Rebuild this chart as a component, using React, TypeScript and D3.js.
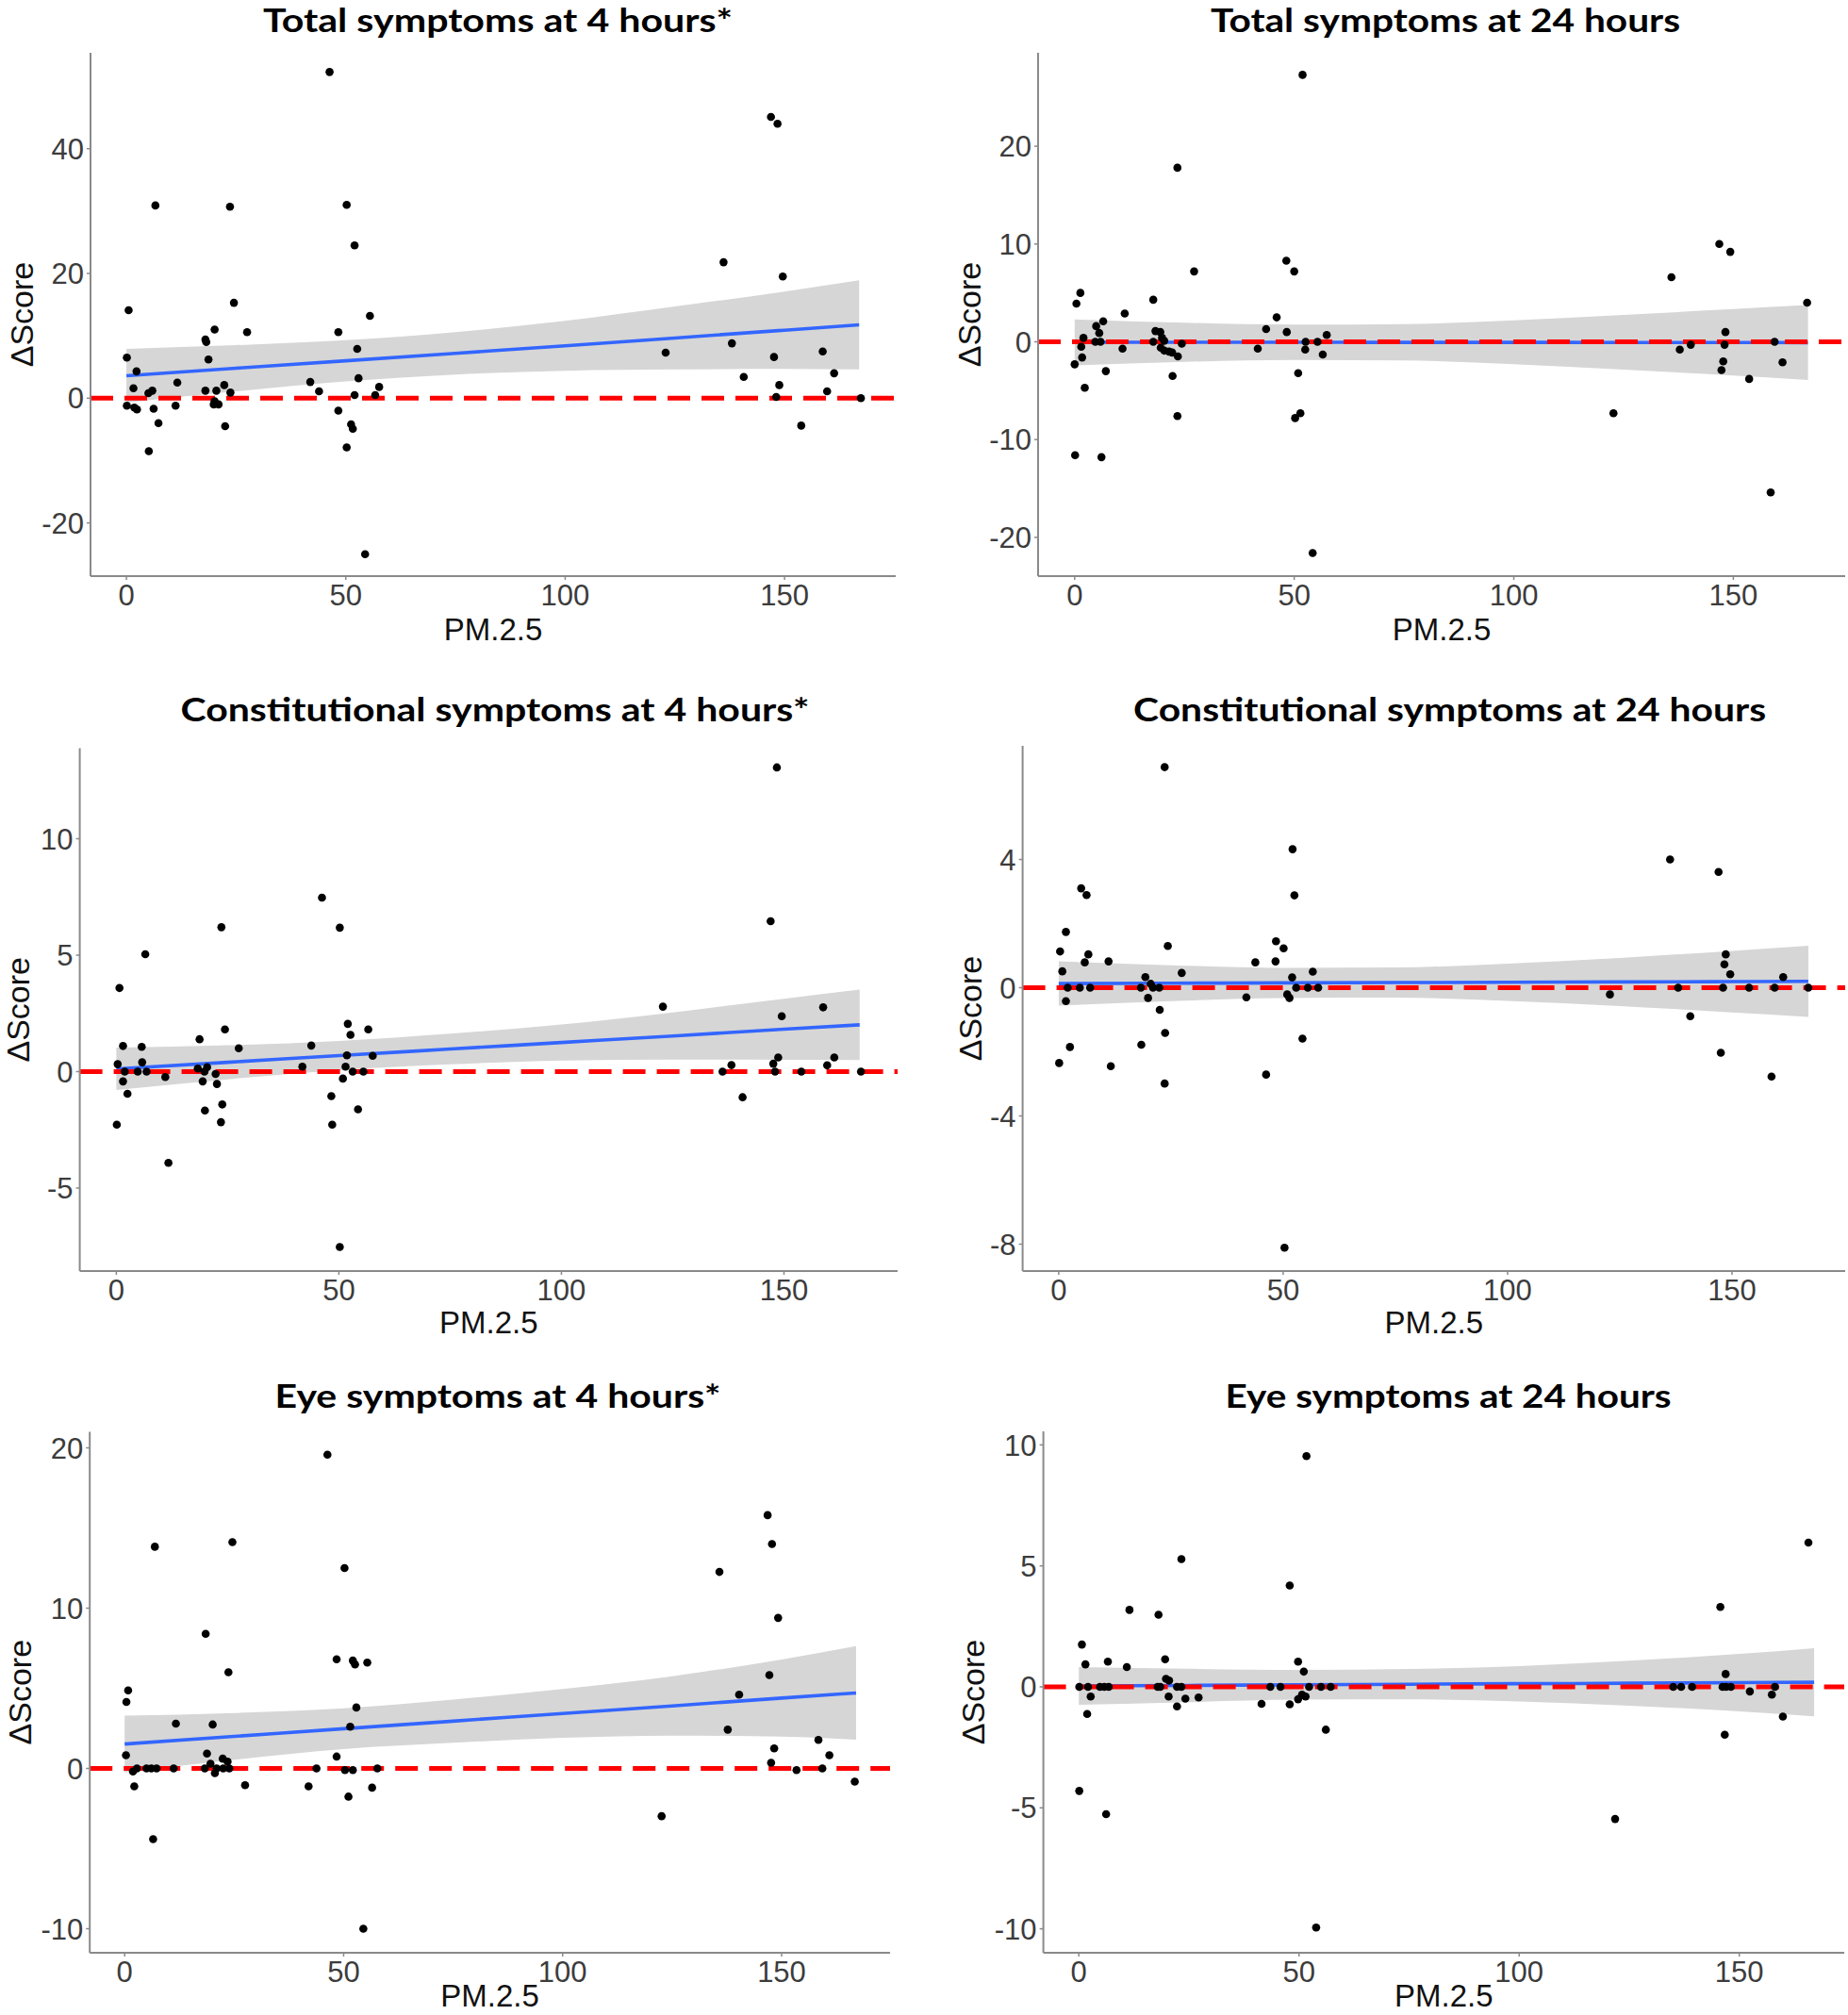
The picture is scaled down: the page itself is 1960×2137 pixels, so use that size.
import React from "react";
import * as d3 from "d3";

// ---------- shared values ----------
const xTickValues = [0, 50, 100, 150];
const fitX = [0, 25, 50, 75, 100, 125, 150, 167];

const titles = [
  "Total symptoms at 4 hours*",
  "Total symptoms at 24 hours",
  "Constitutional symptoms at 4 hours*",
  "Constitutional symptoms at 24 hours",
  "Eye symptoms at 4 hours*",
  "Eye symptoms at 24 hours",
];

// ---------- Total symptoms at 4 hours ----------
const total4hPoints = [
  [46.3, 52.3], [146.9, 45.1], [148.4, 44.0], [6.6, 30.9], [23.6, 30.7], [50.2, 31.0], [52.0, 24.5],
  [136.1, 21.8], [149.6, 19.5], [24.5, 15.3], [0.5, 14.1], [55.5, 13.2], [20.1, 11.0], [27.5, 10.6],
  [48.3, 10.6], [18.0, 9.4], [18.2, 9.0], [0.1, 6.5], [18.7, 6.2], [52.6, 7.9], [122.9, 7.3],
  [138.0, 8.8], [147.6, 6.6], [158.7, 7.5], [2.3, 4.3], [161.3, 4.0], [140.7, 3.4], [52.9, 3.2],
  [11.6, 2.5], [41.9, 2.6], [57.6, 1.8], [148.8, 2.1], [1.6, 1.6], [18.0, 1.2], [20.5, 1.2],
  [22.3, 2.1], [5.9, 1.2], [5.0, 0.8], [23.7, 0.9], [43.9, 1.1], [52.0, 0.5], [56.7, 0.5],
  [159.7, 1.1], [148.1, 0.2], [167.4, 0.0], [0.1, -1.2], [1.8, -1.5], [2.4, -1.8], [11.2, -1.2],
  [19.9, -1.0], [21.0, -1.0], [6.2, -1.7], [48.3, -2.0], [7.3, -4.0], [22.5, -4.5], [51.2, -4.2],
  [51.6, -4.9], [153.8, -4.4], [5.1, -8.5], [50.2, -7.9], [54.4, -25.0], [20.1, -0.5],
];
const total4hYTicks = [-20, 0, 20, 40];
const total4hFit = [3.6, 4.8, 6.0, 7.2, 8.4, 9.65, 10.9, 11.75];
const total4hUpper = [7.9, 8.5, 9.3, 10.6, 12.4, 14.7, 17.1, 18.9];
const total4hLower = [-0.7, 1.1, 2.7, 3.8, 4.4, 4.6, 4.7, 4.6];

// ---------- Total symptoms at 24 hours ----------
const total24hPoints = [
  [51.9, 27.3], [23.4, 17.8], [146.8, 10.0], [149.3, 9.2], [48.2, 8.3], [50.0, 7.2], [27.2, 7.2],
  [135.9, 6.6], [1.3, 5.0], [0.4, 3.9], [166.8, 4.0], [17.9, 4.3], [11.4, 2.9], [46.0, 2.5],
  [43.6, 1.3], [6.5, 2.1], [4.9, 1.6], [5.6, 0.9], [18.4, 1.1], [19.5, 1.0], [48.3, 1.0],
  [57.4, 0.7], [148.2, 1.0], [2.0, 0.4], [19.9, 0.4], [20.4, 0.1], [4.7, 0], [5.9, 0], [17.9, 0],
  [52.6, 0], [55.3, 0], [159.4, 0], [1.5, -0.5], [10.9, -0.7], [19.6, -0.6], [20.4, -0.9],
  [21.5, -1.0], [22.2, -1.1], [24.4, -0.2], [41.7, -0.7], [52.5, -0.8], [137.8, -0.8],
  [140.3, -0.3], [148.0, -0.3], [1.7, -1.6], [23.5, -1.5], [56.5, -1.3], [147.7, -2.0],
  [161.2, -2.1], [0, -2.3], [147.3, -2.9], [7.1, -3.0], [50.9, -3.2], [22.3, -3.5], [153.6, -3.8],
  [2.3, -4.7], [23.4, -7.6], [51.4, -7.3], [50.2, -7.8], [122.7, -7.3], [0.1, -11.6], [6.1, -11.8],
  [158.5, -15.4], [54.2, -21.6],
];
const total24hYTicks = [-20, -10, 0, 10, 20];
const total24hFit = [-0.05, -0.05, -0.05, -0.06, -0.06, -0.07, -0.07, -0.08];
const total24hUpper = [2.3, 1.95, 1.75, 1.8, 2.2, 2.75, 3.35, 3.75];
const total24hLower = [-2.4, -2.05, -1.85, -1.9, -2.3, -2.85, -3.45, -3.9];

// ---------- Constitutional symptoms at 4 hours ----------
const const4hPoints = [
  [148.4, 13.06], [46.2, 7.47], [23.6, 6.2], [50.2, 6.18], [147.0, 6.46], [6.5, 5.04], [0.7, 3.59],
  [122.8, 2.79], [158.8, 2.76], [149.5, 2.38], [52.0, 2.05], [24.4, 1.81], [56.6, 1.81], [52.6, 1.58],
  [18.7, 1.39], [1.5, 1.1], [5.7, 1.06], [43.8, 1.12], [27.5, 1.0], [51.8, 0.7], [57.6, 0.68],
  [148.7, 0.61], [161.3, 0.61], [5.8, 0.4], [0.3, 0.32], [41.8, 0.21], [51.5, 0.21], [147.6, 0.34],
  [138.2, 0.28], [159.7, 0.27], [18.3, 0.13], [20.4, 0.19], [1.9, 0], [4.8, 0], [6.8, 0], [53.1, 0],
  [55.5, 0], [136.2, 0], [148.0, 0], [153.9, 0], [167.3, 0], [19.8, 0], [22.3, -0.1], [11.0, -0.23],
  [1.5, -0.42], [19.4, -0.42], [50.9, -0.3], [22.6, -0.53], [2.5, -0.95], [48.3, -1.05],
  [140.7, -1.1], [23.8, -1.41], [19.9, -1.67], [54.3, -1.62], [23.5, -2.17], [0.1, -2.28],
  [48.5, -2.28], [11.7, -3.92], [50.2, -7.53],
];
const const4hYTicks = [-5, 0, 5, 10];
const const4hFit = [0.12, 0.4, 0.69, 0.97, 1.25, 1.53, 1.82, 2.01];
const const4hUpper = [1.03, 1.13, 1.32, 1.63, 2.02, 2.54, 3.13, 3.52];
const const4hLower = [-0.79, -0.33, 0.06, 0.31, 0.48, 0.52, 0.51, 0.5];

// ---------- Constitutional symptoms at 24 hours ----------
const const24hPoints = [
  [23.6, 6.88], [52.1, 4.32], [136.2, 4.0], [147.0, 3.61], [5.0, 3.1], [6.2, 2.89], [52.5, 2.88],
  [1.6, 1.74], [48.4, 1.45], [24.3, 1.3], [50.1, 1.23], [0.3, 1.13], [6.6, 1.04], [148.6, 1.04],
  [11.1, 0.82], [5.8, 0.79], [43.8, 0.79], [48.3, 0.82], [148.3, 0.73], [0.8, 0.51], [27.4, 0.46],
  [56.6, 0.5], [149.6, 0.42], [52.0, 0.32], [19.3, 0.33], [161.4, 0.33], [20.5, 0.12], [2.0, 0],
  [4.7, 0], [7.0, 0], [18.3, 0], [21.0, 0], [22.4, 0], [52.9, 0], [55.5, 0], [57.8, 0], [138.0, 0],
  [148.0, 0], [153.8, 0], [159.5, 0], [167.0, 0], [122.8, -0.21], [50.9, -0.21], [51.4, -0.32],
  [41.8, -0.3], [19.9, -0.32], [1.6, -0.42], [22.5, -0.69], [140.7, -0.89], [23.7, -1.41],
  [54.3, -1.59], [18.4, -1.78], [2.5, -1.85], [147.5, -2.03], [0.1, -2.35], [11.6, -2.45],
  [46.2, -2.71], [158.8, -2.77], [23.6, -2.99], [50.3, -8.11],
];
const const24hYTicks = [-8, -4, 0, 4];
const const24hFit = [0.13, 0.14, 0.15, 0.16, 0.17, 0.18, 0.19, 0.2];
const const24hUpper = [0.82, 0.7, 0.62, 0.63, 0.75, 0.93, 1.15, 1.31];
const const24hLower = [-0.56, -0.42, -0.32, -0.31, -0.41, -0.57, -0.77, -0.91];

// ---------- Eye symptoms at 4 hours ----------
const eye4hPoints = [
  [46.3, 19.57], [146.8, 15.8], [24.6, 14.12], [6.9, 13.83], [147.8, 14.0], [135.8, 12.26],
  [50.2, 12.5], [149.2, 9.39], [18.5, 8.4], [48.4, 6.81], [52.1, 6.73], [52.6, 6.49], [55.4, 6.6],
  [23.7, 6.0], [147.2, 5.82], [0.8, 4.87], [0.4, 4.15], [140.3, 4.6], [52.9, 3.8], [11.7, 2.79],
  [20.1, 2.74], [51.5, 2.6], [137.7, 2.42], [158.4, 1.78], [148.3, 1.25], [18.8, 0.93], [0.3, 0.82],
  [48.4, 0.74], [160.9, 0.82], [22.4, 0.61], [23.5, 0.43], [19.6, 0.29], [147.6, 0.35], [2.8, 0],
  [5.0, 0], [6.1, 0], [7.3, 0], [11.2, 0], [18.3, 0], [21.0, 0], [22.5, 0], [23.9, 0], [43.8, 0],
  [50.3, -0.1], [52.1, -0.1], [57.7, 0], [159.3, 0], [153.4, -0.1], [1.9, -0.19], [20.6, -0.29],
  [2.2, -1.12], [27.5, -1.04], [42.0, -1.12], [56.5, -1.2], [166.7, -0.82], [51.1, -1.76],
  [122.6, -2.98], [6.5, -4.41], [54.5, -10.0],
];
const eye4hYTicks = [-10, 0, 10, 20];
const eye4hFit = [1.52, 2.0, 2.48, 2.95, 3.43, 3.9, 4.39, 4.71];
const eye4hUpper = [3.29, 3.46, 3.75, 4.3, 4.95, 5.75, 6.8, 7.63];
const eye4hLower = [-0.25, 0.54, 1.21, 1.6, 1.91, 2.05, 1.98, 1.79];

// ---------- Eye symptoms at 24 hours ----------
const eye24hPoints = [
  [51.7, 9.54], [165.7, 5.96], [23.3, 5.28], [47.9, 4.19], [145.7, 3.3], [11.5, 3.18], [18.1, 2.98],
  [0.7, 1.75], [19.6, 1.14], [6.6, 1.04], [49.8, 1.04], [1.5, 0.93], [10.9, 0.82], [51.1, 0.63],
  [146.9, 0.53], [19.8, 0.33], [20.5, 0.26], [0.1, 0], [2.1, 0], [4.8, 0], [5.8, 0], [6.8, 0],
  [17.9, 0], [18.5, 0], [22.3, 0], [23.3, 0], [43.5, 0], [45.8, 0], [52.3, 0], [55.0, 0], [57.2, 0],
  [135.0, 0], [136.8, 0], [139.3, 0], [146.2, 0], [147.0, 0], [148.1, 0], [158.1, 0],
  [152.4, -0.19], [2.7, -0.4], [20.4, -0.4], [24.2, -0.49], [27.2, -0.44], [49.8, -0.51],
  [50.7, -0.32], [51.5, -0.4], [41.5, -0.7], [47.9, -0.72], [22.3, -0.81], [157.4, -0.32],
  [1.9, -1.12], [159.9, -1.23], [56.1, -1.77], [146.7, -1.98], [0.1, -4.3], [6.2, -5.26],
  [121.8, -5.46], [53.9, -9.95],
];
const eye24hYTicks = [-10, -5, 0, 5, 10];
const eye24hFit = [0.04, 0.06, 0.085, 0.11, 0.13, 0.15, 0.175, 0.19];
const eye24hUpper = [0.82, 0.75, 0.7, 0.74, 0.86, 1.08, 1.36, 1.6];
const eye24hLower = [-0.74, -0.63, -0.53, -0.52, -0.6, -0.78, -1.01, -1.22];

// ---------- layout (pixel positions) ----------
const layouts = [
  { left: 96, right: 950, top: 56, bottom: 611, x0: 134.1, x150: 832.1, y0: 422.3, yRef: 20, yRefPx: 290, titleCx: 528, titleBase: 34, titleW: 498, yLabX: 35, xLabBase: 679 },
  { left: 1101, right: 1957, top: 56, bottom: 611, x0: 1139.8, x150: 1838.4, y0: 362.5, yRef: 10, yRefPx: 258.8, titleCx: 1533, titleBase: 34, titleW: 498, yLabX: 1040, xLabBase: 679 },
  { left: 84.6, right: 952, top: 793.6, bottom: 1348, x0: 123.4, x150: 831.5, y0: 1136.5, yRef: 5, yRefPx: 1013, titleCx: 525, titleBase: 765, titleW: 667, yLabX: 31, xLabBase: 1414 },
  { left: 1084.6, right: 1957, top: 791, bottom: 1348, x0: 1122.9, x150: 1837, y0: 1047.5, yRef: 4, yRefPx: 911.5, titleCx: 1537.6, titleBase: 765, titleW: 671, yLabX: 1041, xLabBase: 1414 },
  { left: 95.2, right: 944, top: 1518.4, bottom: 2071, x0: 132.2, x150: 829, y0: 1875.5, yRef: 10, yRefPx: 1705.5, titleCx: 528, titleBase: 1493, titleW: 473, yLabX: 33, xLabBase: 2128 },
  { left: 1106.6, right: 1956, top: 1518, bottom: 2071, x0: 1144.2, x150: 1844.7, y0: 1789, yRef: 5, yRefPx: 1660.7, titleCx: 1536, titleBase: 1493, titleW: 473, yLabX: 1044, xLabBase: 2128 },
];

const panelData = [
  { points: total4hPoints, yTicks: total4hYTicks, fit: total4hFit, upper: total4hUpper, lower: total4hLower },
  { points: total24hPoints, yTicks: total24hYTicks, fit: total24hFit, upper: total24hUpper, lower: total24hLower },
  { points: const4hPoints, yTicks: const4hYTicks, fit: const4hFit, upper: const4hUpper, lower: const4hLower },
  { points: const24hPoints, yTicks: const24hYTicks, fit: const24hFit, upper: const24hUpper, lower: const24hLower },
  { points: eye4hPoints, yTicks: eye4hYTicks, fit: eye4hFit, upper: eye4hUpper, lower: eye4hLower },
  { points: eye24hPoints, yTicks: eye24hYTicks, fit: eye24hFit, upper: eye24hUpper, lower: eye24hLower },
];

const AXIS_COLOR = "#8a8a8a";
const TICK_TEXT = "#3c3c3c";
const NUM_FONT = "'Liberation Sans', Arial, Helvetica, sans-serif";
const TITLE_FONT = "Lato, 'Open Sans', sans-serif";

function Panel({ idx }: { idx: number }) {
  const L = layouts[idx];
  const D = panelData[idx];
  const x = d3.scaleLinear().domain([0, 150]).range([L.x0, L.x150]);
  const y = d3.scaleLinear().domain([0, L.yRef]).range([L.y0, L.yRefPx]);

  const area = d3
    .area<number>()
    .x((_, i) => x(fitX[i]))
    .y0((_, i) => y(D.lower[i]))
    .y1((_, i) => y(D.upper[i]))
    .curve(d3.curveMonotoneX);
  const line = d3
    .line<number>()
    .x((_, i) => x(fitX[i]))
    .y((d) => y(d))
    .curve(d3.curveMonotoneX);

  const cy = (L.top + L.bottom) / 2;
  const cx = (L.left + L.right) / 2;

  return (
    <g>
      <text
        x={L.titleCx}
        y={L.titleBase}
        textAnchor="middle"
        fontFamily={TITLE_FONT}
        fontWeight={700}
        fontSize={35}
        fill="#000"
        textLength={L.titleW}
        lengthAdjust="spacingAndGlyphs"
      >
        {titles[idx]}
      </text>

      <path d={area(D.upper) || ""} fill="#d6d6d6" stroke="none" />
      <path d={line(D.fit) || ""} fill="none" stroke="#3366FF" strokeWidth={3.6} />
      <line
        x1={L.left}
        x2={L.right}
        y1={y(0)}
        y2={y(0)}
        stroke="#FF0000"
        strokeWidth={5}
        strokeDasharray="24 12"
      />
      {D.points.map((p, i) => (
        <circle key={i} cx={x(p[0])} cy={y(p[1])} r={4.3} fill="#000" />
      ))}

      <line x1={L.left} x2={L.left} y1={L.top} y2={L.bottom} stroke={AXIS_COLOR} strokeWidth={2} />
      <line x1={L.left} x2={L.right} y1={L.bottom} y2={L.bottom} stroke={AXIS_COLOR} strokeWidth={2} />

      {D.yTicks.map((t) => (
        <g key={"y" + t}>
          <line x1={L.left - 4} x2={L.left} y1={y(t)} y2={y(t)} stroke={AXIS_COLOR} strokeWidth={1.5} />
          <text
            x={L.left - 7}
            y={y(t)}
            dy="0.36em"
            textAnchor="end"
            fontFamily={NUM_FONT}
            fontSize={31}
            fill={TICK_TEXT}
          >
            {t}
          </text>
        </g>
      ))}
      {xTickValues.map((t) => (
        <g key={"x" + t}>
          <line x1={x(t)} x2={x(t)} y1={L.bottom} y2={L.bottom + 4} stroke={AXIS_COLOR} strokeWidth={1.5} />
          <text
            x={x(t)}
            y={L.bottom + 31}
            textAnchor="middle"
            fontFamily={NUM_FONT}
            fontSize={31}
            fill={TICK_TEXT}
          >
            {t}
          </text>
        </g>
      ))}

      <text
        x={cx}
        y={L.xLabBase}
        textAnchor="middle"
        fontFamily={NUM_FONT}
        fontSize={33}
        fill="#111"
      >
        PM.2.5
      </text>
      <text
        transform={`translate(${L.yLabX},${cy}) rotate(-90)`}
        textAnchor="middle"
        fontFamily={NUM_FONT}
        fontSize={34}
        fill="#111"
      >
        ΔScore
      </text>
    </g>
  );
}

export default function App() {
  return (
    <div style={{ position: "absolute", left: 0, top: 0 }}>
      <svg width={1960} height={2137} style={{ display: "block", background: "#fff" }}>
        <rect x={0} y={0} width={1960} height={2137} fill="#fff" />
        {layouts.map((_, i) => (
          <Panel key={i} idx={i} />
        ))}
      </svg>
    </div>
  );
}
